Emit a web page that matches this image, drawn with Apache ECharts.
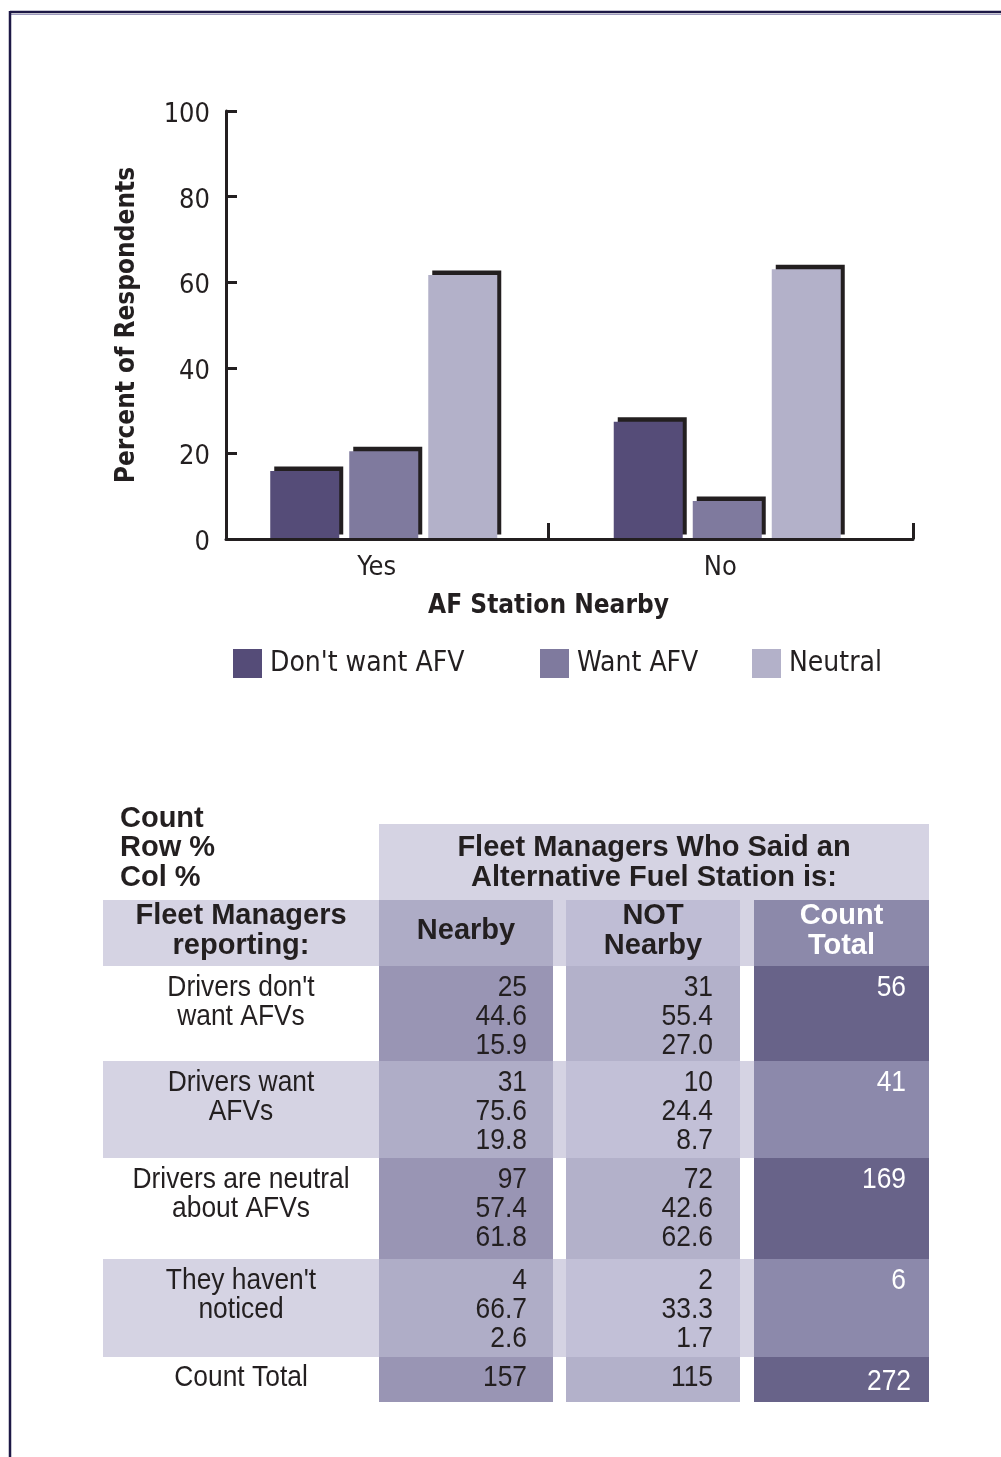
<!DOCTYPE html>
<html><head><meta charset="utf-8">
<script src="https://cdn.jsdelivr.net/npm/echarts@6/dist/echarts.min.js"></script>
<style>html,body{margin:0;padding:0;background:#fff}#c{width:1001px;height:1457px}</style>
</head><body><div id="c"></div>
<script>
// ---------- data ----------
const categories = ['Yes', 'No'];
const seriesNames = ["Don't want AFV", 'Want AFV', 'Neutral'];
const dontWantAFV = [15.9, 27.4];
const wantAFV = [20.5, 8.9];
const neutralAFV = [61.7, 63.0];

const cornerLabels = ['Count', 'Row %', 'Col %'];
const headerTitle = ['Fleet Managers Who Said an', 'Alternative Fuel Station is:'];
const rowHeader = ['Fleet Managers', 'reporting:'];
const colHeaders = [['Nearby'], ['NOT', 'Nearby'], ['Count', 'Total']];
const rowLabels = [["Drivers don't", 'want AFVs'], ['Drivers want', 'AFVs'], ['Drivers are neutral', 'about AFVs'], ["They haven't", 'noticed']];
const countNearby = [25, 31, 97, 4];
const rowPctNearby = [44.6, 75.6, 57.4, 66.7];
const colPctNearby = [15.9, 19.8, 61.8, 2.6];
const countNotNearby = [31, 10, 72, 2];
const rowPctNotNearby = [55.4, 24.4, 42.6, 33.3];
const colPctNotNearby = [27.0, 8.7, 62.6, 1.7];
const countTotalRow = [56, 41, 169, 6];
const totalLabel = 'Count Total';
const columnTotals = [157, 115, 272];

// ---------- styles / layout ----------
const INK = '#231f20';
const FN = "'DejaVu Sans Condensed','Liberation Sans Narrow',sans-serif";
const FB = "'Liberation Sans',Arial,sans-serif";
const barColors = ['#554c78', '#7f7a9e', '#b3b1c9'];
const lightBand = '#d5d3e3';
const cellColors = {
  header: ['#aeacc6', '#bfbdd5', '#8c89aa'],
  odd: ['#9995b4', '#b3b1ca', '#686389'],
  even: ['#afadc7', '#c2c0d7', '#8c89ab']
};
const colSpan = [[0, 276], [276, 450], [463, 637], [651, 826]];
const rowSpan = [[0, 76], [76, 142], [142, 237], [237, 334], [334, 435], [435, 533], [533, 578]];
const NARROW = 0.88;

function renderTable(params, api) {
  const r = api.value(0);
  const R = rowSpan[r];
  const kids = [];
  const box = (c0, c1, fill) => {
    const p0 = api.coord([c0, R[0]]), p1 = api.coord([c1, R[1]]);
    kids.push({ type: 'rect', shape: { x: p0[0], y: p0[1], width: p1[0] - p0[0], height: p1[1] - p0[1] }, style: { fill: fill } });
  };
  const txt = (x, y, lines, opt, sx) => {
    const p = api.coord([x, y]);
    kids.push({ type: 'text', x: p[0], y: p[1], scaleX: sx || 1,
      style: Object.assign({ x: 0, y: 0, text: lines.join('\n'), fill: INK, fontFamily: FB, fontSize: 30, lineHeight: 29, align: 'center', verticalAlign: 'top' }, opt || {}) });
  };
  const light = (x, y, lines, opt) => txt(x, y, lines, opt, NARROW);
  const bold = { fontFamily: FB, fontWeight: 'bold', fontSize: 29, lineHeight: 30, verticalAlign: 'middle' };
  const mid = (c) => (colSpan[c][0] + colSpan[c][1]) / 2;
  if (r === 0) {
    box(colSpan[1][0], colSpan[3][1], lightBand);
    txt(17, -20, cornerLabels, Object.assign({}, bold, { align: 'left', verticalAlign: 'top', lineHeight: 29.5 }));
    txt((colSpan[1][0] + colSpan[3][1]) / 2, (R[0] + R[1]) / 2 + 1, headerTitle, bold);
  } else if (r === 1) {
    box(colSpan[0][0], colSpan[3][1], lightBand);
    for (let c = 1; c <= 3; c++) box(colSpan[c][0], colSpan[c][1], cellColors.header[c - 1]);
    const cy = (R[0] + R[1]) / 2;
    txt(mid(0), cy - 2, rowHeader, bold);
    txt(mid(1), cy - 2, colHeaders[0], bold);
    txt(mid(2), cy - 2, colHeaders[1], bold);
    txt(mid(3), cy - 2, colHeaders[2], Object.assign({}, bold, { fill: '#ffffff' }));
  } else if (r <= 5) {
    const b = r - 2;
    const shade = b % 2 === 1 ? 'even' : 'odd';
    if (shade === 'even') box(colSpan[0][0], colSpan[3][1], lightBand);
    for (let c = 1; c <= 3; c++) box(colSpan[c][0], colSpan[c][1], cellColors[shade][c - 1]);
    const ty = R[0] + 7;
    light(mid(0), ty, rowLabels[b]);
    light(colSpan[1][1] - 26, ty, [String(countNearby[b]), rowPctNearby[b].toFixed(1), colPctNearby[b].toFixed(1)], { align: 'right' });
    light(colSpan[2][1] - 27, ty, [String(countNotNearby[b]), rowPctNotNearby[b].toFixed(1), colPctNotNearby[b].toFixed(1)], { align: 'right' });
    light(colSpan[3][1] - 23, ty, [String(countTotalRow[b])], { align: 'right', fill: '#ffffff' });
  } else {
    for (let c = 1; c <= 3; c++) box(colSpan[c][0], colSpan[c][1], cellColors.odd[c - 1]);
    const cy = R[0] + 21;
    light(mid(0), cy, [totalLabel], { verticalAlign: 'middle' });
    light(colSpan[1][1] - 26, cy, [String(columnTotals[0])], { align: 'right', verticalAlign: 'middle' });
    light(colSpan[2][1] - 27, cy, [String(columnTotals[1])], { align: 'right', verticalAlign: 'middle' });
    light(colSpan[3][1] - 18, cy + 4, [String(columnTotals[2])], { align: 'right', verticalAlign: 'middle', fill: '#ffffff' });
  }
  return { type: 'group', children: kids };
}

const chart = echarts.init(document.getElementById('c'), null, { renderer: 'canvas' });
const barSeries = [dontWantAFV, wantAFV, neutralAFV].map((d, i) => ({
  type: 'bar', name: seriesNames[i], data: d, xAxisIndex: 0, yAxisIndex: 0,
  barWidth: 69, barGap: '14.5%', silent: true,
  itemStyle: { color: barColors[i], shadowColor: INK, shadowBlur: 0, shadowOffsetX: 4, shadowOffsetY: -4.5 },
  emphasis: { disabled: true }
}));
const legendLefts = [228, 535, 747];

chart.setOption({
  animation: false,
  backgroundColor: '#ffffff',
  grid: [
    { left: 212, width: 687, top: 111, height: 428 },
    { left: 226, width: 687, top: 111, height: 428 },
    { left: 103, width: 826, top: 824, height: 578 }
  ],
  xAxis: [
    { type: 'category', gridIndex: 0, data: categories,
      axisLine: { show: false }, axisTick: { show: false },
      axisLabel: { color: INK, fontFamily: FN, fontSize: 27, margin: 15, padding: [0, 14, 0, 0] },
      name: 'AF Station Nearby', nameLocation: 'middle', nameGap: 54,
      nameTextStyle: { color: INK, fontFamily: FN, fontWeight: 'bold', fontSize: 26, padding: [0, 14, 0, 0] } },
    { type: 'value', gridIndex: 1, min: 0, max: 687, interval: 10000, z: 5,
      axisLine: { show: true, lineStyle: { color: INK, width: 3 } },
      axisTick: { show: true, inside: true, length: 16, customValues: [322, 687], lineStyle: { color: INK, width: 3 } },
      axisLabel: { show: false }, splitLine: { show: false } },
    { type: 'value', gridIndex: 2, min: 0, max: 826, show: false }
  ],
  yAxis: [
    { type: 'value', gridIndex: 0, min: 0, max: 100, show: false },
    { type: 'value', gridIndex: 1, min: 0, max: 100, interval: 20, z: 5,
      axisLine: { show: true, lineStyle: { color: INK, width: 3 } },
      axisTick: { show: true, inside: true, length: 11, lineStyle: { color: INK, width: 3 } },
      axisLabel: { color: INK, fontFamily: FN, fontSize: 27, margin: 16, verticalAlign: 'top', lineHeight: 8 },
      splitLine: { show: false },
      name: 'Percent of Respondents', nameLocation: 'middle', nameRotate: 90, nameGap: 86,
      nameTextStyle: { color: INK, fontFamily: FN, fontWeight: 'bold', fontSize: 26 } },
    { type: 'value', gridIndex: 2, min: 0, max: 578, inverse: true, show: false }
  ],
  legend: seriesNames.map((n, i) => ({
    data: [n], left: legendLefts[i], top: 644, orient: 'horizontal',
    icon: 'rect', itemWidth: 29, itemHeight: 29, selectedMode: false,
    textStyle: { color: INK, fontFamily: FN, fontSize: 28, lineHeight: 29, padding: [0, 0, 0, 3] }
  })),
  graphic: [
    { type: 'line', shape: { x1: 10, y1: 12, x2: 1001, y2: 12 }, style: { stroke: '#1d1846', lineWidth: 2.5 } },
    { type: 'line', shape: { x1: 11, y1: 14.5, x2: 1001, y2: 14.5 }, style: { stroke: '#9d99bd', lineWidth: 1.2 } },
    { type: 'line', shape: { x1: 10, y1: 11, x2: 10, y2: 1457 }, style: { stroke: '#1d1846', lineWidth: 2.5 } }
  ],
  series: barSeries.concat([{
    type: 'custom', name: 'table', coordinateSystem: 'cartesian2d', xAxisIndex: 2, yAxisIndex: 2,
    silent: true, clip: false, renderItem: renderTable,
    data: rowSpan.map((_, i) => [i, i])
  }])
});
</script></body></html>
